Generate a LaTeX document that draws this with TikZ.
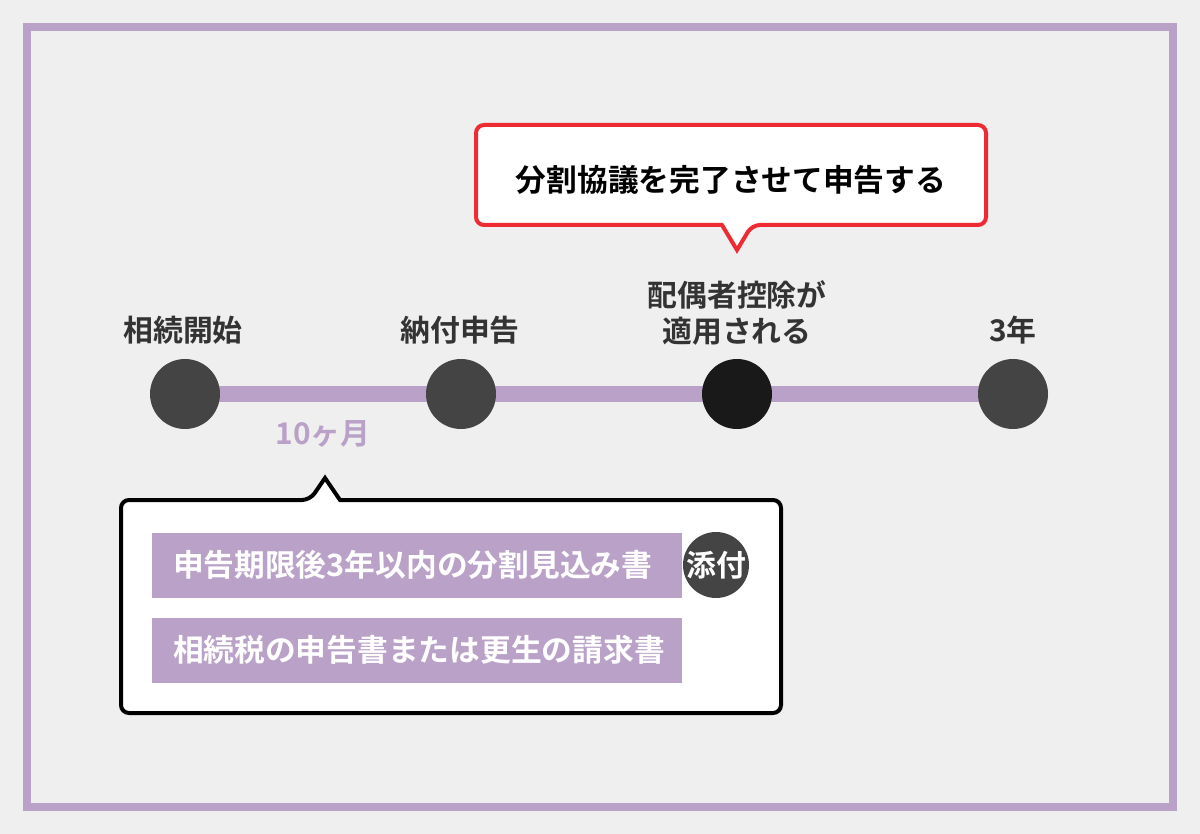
\documentclass[tikz,border=0pt]{standalone}
\usepackage{fontspec}
\setmainfont{Noto Sans CJK JP}[BoldFont={* Bold}]
\usetikzlibrary{positioning}
\definecolor{bgray}{HTML}{EFEFEF}
\definecolor{lilac}{HTML}{B9A1C8}
\definecolor{dot}{HTML}{444444}
\definecolor{callred}{HTML}{EE2B33}
\tikzset{dotnode/.style={circle,fill=dot,minimum size=70\unitpx,inner sep=0},
         steplabel/.style={font=\fontsize{17}{21}\selectfont\bfseries,text=black!80,align=center},
         barbox/.style={fill=lilac,text=white,minimum height=65\unitpx,text width=488\unitpx,inner xsep=21\unitpx,inner ysep=0,
                        align=left,font=\fontsize{17.5}{21}\selectfont\bfseries}
}
\newcommand\unitpx{*0.02cm}
\begin{document}
\begin{tikzpicture}[x=0.02cm,y=-0.02cm]
  \fill[bgray](0,0)rectangle(1200,834);
  \useasboundingbox(0,0)rectangle(1200,834);
  \draw[lilac,line width=8\unitpx](27,27)rectangle(1173,807);
  % timeline
  \coordinate (tl0) at (185,394);
  \coordinate (tl1) at (1013,394);
  \draw[lilac,line width=16\unitpx](tl0)--(tl1);
  \node[dotnode] (start) at (185,394) {};
  \node[dotnode] (file) at (461,394) {};
  \node[dotnode,fill=black!90] (deduct) at (737,394) {};
  \node[dotnode] (end) at (1013,394) {};
  \node[steplabel] (startlbl) at (183,330) {相続開始};
  \node[steplabel] (filelbl) at (460,330) {納付申告};
  \node[steplabel] (deductlbl) at (737,313) {配偶者控除が\\適用される};
  \node[steplabel] (endlbl) at (1013,330) {3年};
  \node[text=lilac,font=\fontsize{17}{21}\selectfont\bfseries] (months) at (323,434) {10ヶ月};
  % red callout
  \draw[callred,fill=white,line width=4\unitpx,rounded corners=8\unitpx]
    (476,125)--(986,125)--(986,225)--(752,225)[sharp corners]--(737,250)--(722,225)[rounded corners=8\unitpx]--(476,225)--cycle;
  \node[font=\fontsize{17.5}{21}\selectfont\bfseries] (agree) at (731,180) {分割協議を完了させて申告する};
  % black callout
  \draw[black,fill=white,line width=4\unitpx,rounded corners=8\unitpx]
    (121,500)--(310,500)[sharp corners]--(325,478)--(340,500)[rounded corners=8\unitpx]--(781,500)--(781,713)--(121,713)--cycle;
  \node[barbox] (plan) at (417,565) {申告期限後3年以内の分割見込み書};
  \node[circle,fill=dot,minimum size=66\unitpx,inner sep=0,text=white,font=\fontsize{17}{20}\selectfont\bfseries] (attach) at (716,565) {添付};
  \node[barbox] (claim) at (417,650) {相続税の申告書または更生の請求書};
\end{tikzpicture}
\end{document}
